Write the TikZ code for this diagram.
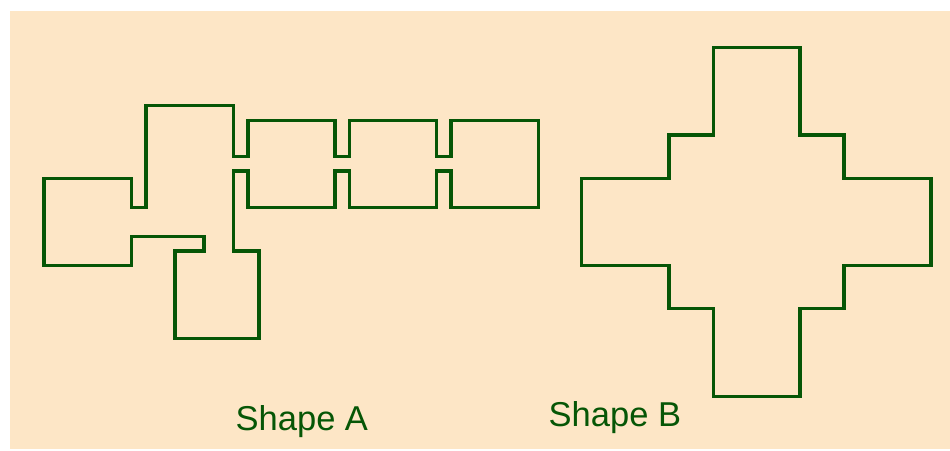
\documentclass[tikz,border=0pt]{standalone}
\usepackage{fontspec}
\setmainfont{Liberation Sans}
\usetikzlibrary{positioning}
\definecolor{paper}{RGB}{253,230,198}
\definecolor{ink}{RGB}{6,86,6}
\begin{document}
\begin{tikzpicture}[x=1pt, y=-1pt,
  outline/.style={draw=ink, line width=3.2pt},
  caption/.style={text=ink, inner sep=0pt, anchor=base west, font=\fontsize{34.5}{40}\selectfont}]
\useasboundingbox (0,0) rectangle (950,450);
\fill[paper] (10,11) rectangle (950,449);

% Shape A
\draw[outline] (44,178.3) -- (131.7,178.3) -- (131.7,207.3) -- (146,207.3) -- (146,105.3)
  -- (233.3,105.3) -- (233.3,156.7) -- (248,156.7) -- (248,120.7)
  -- (335,120.7) -- (335,156.7) -- (349.3,156.7) -- (349.3,120.7)
  -- (436.7,120.7) -- (436.7,156.7) -- (451,156.7) -- (451,120.7)
  -- (538.3,120.7) -- (538.3,207.3) -- (451,207.3) -- (451,171)
  -- (436.7,171) -- (436.7,207.3) -- (349.3,207.3) -- (349.3,171)
  -- (335,171) -- (335,207.3) -- (248,207.3) -- (248,171)
  -- (233.3,171) -- (233.3,251) -- (259,251) -- (259,338.3)
  -- (175,338.3) -- (175,251) -- (204,251) -- (204,236.7)
  -- (131.7,236.7) -- (131.7,265.7) -- (44,265.7) -- cycle;

% Shape B
\draw[outline] (713.3,47.3) -- (800,47.3) -- (800,135) -- (844,135) -- (844,178.3)
  -- (931,178.3) -- (931,265.7) -- (844,265.7) -- (844,308.3) -- (800,308.3)
  -- (800,396.7) -- (713.3,396.7) -- (713.3,308.3) -- (669,308.3) -- (669,265.7)
  -- (581.7,265.7) -- (581.7,178.3) -- (669,178.3) -- (669,135) -- (713.3,135) -- cycle;

\node[caption] (labelA) at (235.5,430) {Shape A};
\node[caption] (labelB) at (548.5,426.7) {Shape B};
\end{tikzpicture}
\end{document}
